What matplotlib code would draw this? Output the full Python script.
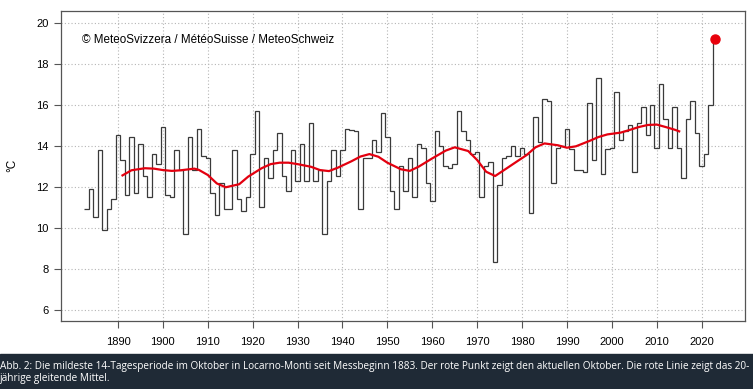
import numpy as np
import matplotlib.pyplot as plt

# Jahreswerte (mildeste 14-Tagesperiode im Oktober, Locarno-Monti)
jahre = np.arange(1883, 2024)
temp = [10.9, 11.9, 10.5, 13.8, 9.9, 10.9, 11.4,
        14.5, 13.3, 11.6, 14.4, 11.7, 14.1, 12.5, 11.5, 13.6, 13.1,
        14.9, 11.6, 11.5, 13.8, 12.8, 9.7, 14.4, 12.8, 14.8, 13.5,
        13.4, 11.7, 10.6, 12.2, 10.9, 10.9, 13.8, 11.4, 10.8, 11.5,
        13.6, 15.7, 11.0, 13.4, 12.4, 13.8, 14.6, 12.5, 11.8, 13.8,
        12.3, 14.1, 12.3, 15.1, 12.3, 12.8, 9.7, 12.3, 13.8, 12.5,
        13.8, 14.8, 14.75, 14.7, 10.9, 13.4, 13.4, 14.3, 13.7, 15.6,
        14.4, 11.8, 10.9, 13.0, 11.8, 13.4, 11.5, 14.1, 13.9, 12.2,
        11.3, 14.7, 14.0, 13.0, 12.9, 13.1, 15.7, 14.7, 14.3, 13.6,
        13.7, 11.5, 13.0, 13.2, 8.3, 12.1, 13.4, 13.5, 14.0, 13.5,
        13.9, 13.6, 10.7, 15.4, 14.2, 16.3, 16.2, 12.2, 13.9, 14.0,
        14.8, 13.85, 12.8, 12.8, 12.7, 16.1, 13.3, 17.3, 12.6, 13.85,
        13.9, 16.6, 14.3, 14.7, 15.0, 12.7, 15.1, 15.9, 14.5, 16.0,
        13.9, 17.0, 15.3, 13.9, 15.9, 13.9, 12.4, 15.3, 16.2, 14.6,
        13.0, 13.6, 16.0, 19.2]

# 20-jaehriges gleitendes Mittel
mittel_jahre = [1891, 1893, 1896, 1898, 1900, 1902, 1904, 1907, 1908, 1910,
                1912, 1914, 1917, 1919, 1922, 1924, 1926, 1928, 1930, 1933,
                1935, 1937, 1939, 1942, 1944, 1946, 1948, 1950, 1953, 1955,
                1957, 1960, 1963, 1965, 1968, 1970, 1972, 1974, 1976, 1979,
                1981, 1983, 1985, 1988, 1990, 1992, 1995, 1997, 1999, 2002,
                2004, 2006, 2008, 2010, 2012, 2014, 2015]
mittel = [12.55, 12.8, 12.9, 12.88, 12.81, 12.77, 12.8, 12.88, 12.82, 12.57,
          12.16, 11.97, 12.12, 12.49, 12.9, 13.1, 13.17, 13.17, 13.1, 12.97,
          12.81, 12.76, 12.93, 13.24, 13.47, 13.59, 13.46, 13.17, 12.85, 12.77,
          12.98, 13.38, 13.76, 13.92, 13.74, 13.3, 12.73, 12.52, 12.81, 13.25,
          13.54, 13.92, 14.11, 14.02, 13.9, 13.97, 14.23, 14.42, 14.55, 14.64,
          14.77, 14.91, 15.01, 15.03, 14.91, 14.78, 14.7]

plt.rcParams['font.family'] = ['Liberation Sans', 'DejaVu Sans']

fig = plt.figure(figsize=(7.53, 3.89), dpi=100)
ax = fig.add_axes([0.081, 0.1756, 0.908, 0.796])

ax.stairs(temp, np.append(jahre, jahre[-1] + 1) - 0.5, baseline=None,
          color='#3a3a3a', linewidth=0.9, zorder=3)
ax.plot(mittel_jahre, mittel, color='#e3000f', linewidth=1.6, zorder=4)
ax.plot(jahre[-1], temp[-1], 'o', color='#e8000b', markersize=6.5, zorder=5)

ax.set_xlim(1877.3, 2029.6)
ax.set_ylim(5.46, 20.57)
ax.set_xticks(np.arange(1890, 2021, 10))
ax.set_yticks(np.arange(6, 21, 2))
ax.grid(True, color='#b5b5b5', linestyle=(0, (1, 2)), linewidth=0.8)
ax.tick_params(axis='x', length=5, pad=6.5, labelsize=8, color='#555555')
ax.tick_params(axis='y', length=5, pad=4, labelsize=8, color='#555555')
ax.set_ylabel('°C', fontsize=8.5, labelpad=13)
for s in ax.spines.values():
    s.set_color('#555555')
    s.set_linewidth(0.9)

ax.text(0.031, 0.906, '© MeteoSvizzera / MétéoSuisse / MeteoSchweiz',
        transform=ax.transAxes, fontsize=8.4, va='center')

# Bildunterschrift
fig.patches.append(plt.Rectangle((0, 0), 1, 35 / 389, transform=fig.transFigure,
                                 color='#1f2a36', zorder=0))
fig.text(0.0, 22 / 389, 'Abb. 2: Die mildeste 14-Tagesperiode im Oktober in Locarno-Monti '
         'seit Messbeginn 1883. Der rote Punkt zeigt den aktuellen Oktober. '
         'Die rote Linie zeigt das 20-', color='white', fontsize=7.2,
         family='Open Sans', va='center')
fig.text(0.0, 10 / 389, 'jährige gleitende Mittel.', color='white', fontsize=7.2,
         family='Open Sans', va='center')

fig.savefig('out.png', dpi=100)
